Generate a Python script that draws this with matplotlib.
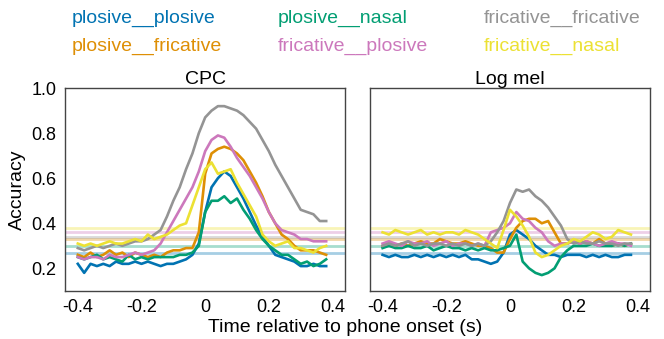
import matplotlib.pyplot as plt
import numpy as np

plt.rcParams['font.family'] = ['Liberation Sans', 'DejaVu Sans']

time = np.round(np.arange(-0.40, 0.39, 0.02), 2)

labels = ['plosive__plosive', 'plosive__fricative', 'plosive__nasal',
          'fricative__plosive', 'fricative__fricative', 'fricative__nasal']
colors = ['#0173b2', '#de8f05', '#029e73', '#cc78bc', '#949494', '#ece133']

# chance level per class pair
chance = [0.27, 0.33, 0.30, 0.36, 0.34, 0.38]

cpc_pp = [.22, .18, .22, .21, .22, .21, .23, .22, .22, .23, .22, .23, .22, .21, .22, .22, .23, .24, .26, .31,
          .45, .56, .60, .63, .61, .56, .51, .45, .39, .34, .30, .26, .25, .24, .23, .21, .21, .22, .21, .21]
cpc_pf = [.26, .25, .27, .25, .26, .28, .26, .27, .25, .27, .26, .25, .26, .25, .27, .28, .28, .29, .29, .36,
          .62, .71, .73, .74, .73, .71, .68, .63, .58, .52, .45, .40, .35, .33, .30, .28, .28, .28, .27, .26]
cpc_pn = [.25, .24, .25, .26, .24, .25, .24, .23, .26, .24, .25, .24, .25, .25, .25, .25, .26, .26, .27, .30,
          .45, .50, .50, .52, .49, .51, .46, .42, .37, .33, .30, .28, .26, .26, .24, .22, .23, .21, .22, .24]
cpc_fp = [.25, .24, .25, .25, .24, .26, .25, .25, .26, .27, .26, .27, .28, .31, .36, .41, .46, .51, .56, .63,
          .72, .77, .79, .78, .74, .69, .65, .61, .56, .51, .45, .40, .37, .36, .35, .33, .33, .32, .32, .32]
cpc_ff = [.29, .28, .29, .30, .29, .30, .31, .30, .31, .32, .32, .33, .35, .37, .43, .50, .56, .64, .71, .80,
          .87, .90, .92, .92, .91, .90, .88, .85, .82, .77, .72, .66, .61, .56, .51, .46, .45, .44, .41, .41]
cpc_fn = [.31, .30, .31, .30, .31, .32, .31, .31, .32, .33, .32, .35, .33, .34, .35, .37, .39, .40, .48, .56,
          .64, .67, .62, .63, .64, .58, .53, .48, .43, .35, .32, .30, .31, .32, .29, .29, .28, .27, .29, .30]

mel_pp = [.26, .25, .26, .25, .25, .26, .25, .26, .25, .26, .25, .26, .25, .26, .24, .24, .23, .22, .23, .27,
          .35, .37, .35, .33, .30, .28, .26, .26, .25, .26, .26, .26, .25, .26, .25, .26, .25, .25, .26, .26]
mel_pf = [.30, .31, .30, .31, .30, .31, .32, .31, .31, .33, .32, .31, .31, .32, .31, .30, .30, .29, .27, .27,
          .33, .38, .41, .42, .42, .40, .41, .36, .31, .31, .32, .31, .32, .31, .33, .31, .30, .31, .30, .31]
mel_pn = [.29, .30, .29, .29, .30, .29, .29, .30, .28, .29, .30, .29, .29, .28, .29, .28, .29, .28, .28, .29,
          .30, .35, .23, .20, .18, .17, .18, .20, .25, .28, .30, .30, .30, .31, .30, .30, .30, .31, .30, .31]
mel_fp = [.31, .32, .31, .30, .32, .31, .31, .32, .30, .31, .32, .30, .31, .31, .30, .31, .30, .36, .37, .38,
          .40, .45, .42, .41, .38, .36, .32, .30, .31, .31, .32, .31, .32, .31, .30, .31, .32, .31, .31, .30]
mel_ff = [.30, .31, .30, .31, .32, .30, .31, .30, .31, .31, .30, .31, .30, .31, .30, .31, .30, .32, .36, .41,
          .49, .55, .54, .55, .52, .50, .47, .43, .39, .33, .31, .32, .31, .31, .32, .31, .31, .30, .31, .31]
mel_fn = [.36, .35, .37, .36, .35, .36, .37, .35, .36, .35, .36, .36, .35, .37, .36, .35, .33, .31, .29, .37,
          .46, .43, .39, .34, .27, .25, .26, .28, .30, .31, .33, .32, .34, .36, .35, .33, .34, .37, .36, .35]

panels = [('CPC', [cpc_pp, cpc_pf, cpc_pn, cpc_fp, cpc_ff, cpc_fn]),
          ('Log mel', [mel_pp, mel_pf, mel_pn, mel_fp, mel_ff, mel_fn])]

fig = plt.figure(figsize=(6.64, 3.39), dpi=100)
ax1 = fig.add_axes([0.098, 0.142, 0.422, 0.598])
ax2 = fig.add_axes([0.557, 0.142, 0.422, 0.598], sharey=ax1)

for ax, (title, series) in zip([ax1, ax2], panels):
    # chance lines first so curves sit on top
    for c, level in zip(colors, chance):
        ax.axhline(level, color=c, alpha=0.35, linewidth=2)
    for c, vals in zip(colors, series):
        ax.plot(time, vals, color=c, linewidth=1.9)
    ax.set_title(title, fontsize=14, pad=3)
    ax.set_xlim(-0.44, 0.44)
    ax.set_ylim(0.1, 1.0)
    ax.set_xticks([-0.4, -0.2, 0, 0.2, 0.4])
    ax.set_xticklabels(['-0.4', '-0.2', '0', '0.2', '0.4'])
    ax.tick_params(length=0, labelsize=13, pad=6)
    for s in ax.spines.values():
        s.set_color('#444444')
        s.set_linewidth(1)

ax1.set_yticks([0.2, 0.4, 0.6, 0.8, 1.0])
ax1.set_yticklabels(['0.2', '0.4', '0.6', '0.8', '1.0'])
ax1.set_ylabel('Accuracy', fontsize=14, labelpad=4)
ax2.tick_params(labelleft=False)

fig.text(0.52, 0.02, 'Time relative to phone onset (s)', fontsize=14, ha='center')

# legend as coloured text, 3 columns x 2 rows
col_x = [0.108, 0.418, 0.728]
row_y = [0.945, 0.862]
for i, (lab, c) in enumerate(zip(labels, colors)):
    fig.text(col_x[i // 2], row_y[i % 2], lab, color=c, fontsize=14, va='center')

plt.savefig('out.png', dpi=100)
